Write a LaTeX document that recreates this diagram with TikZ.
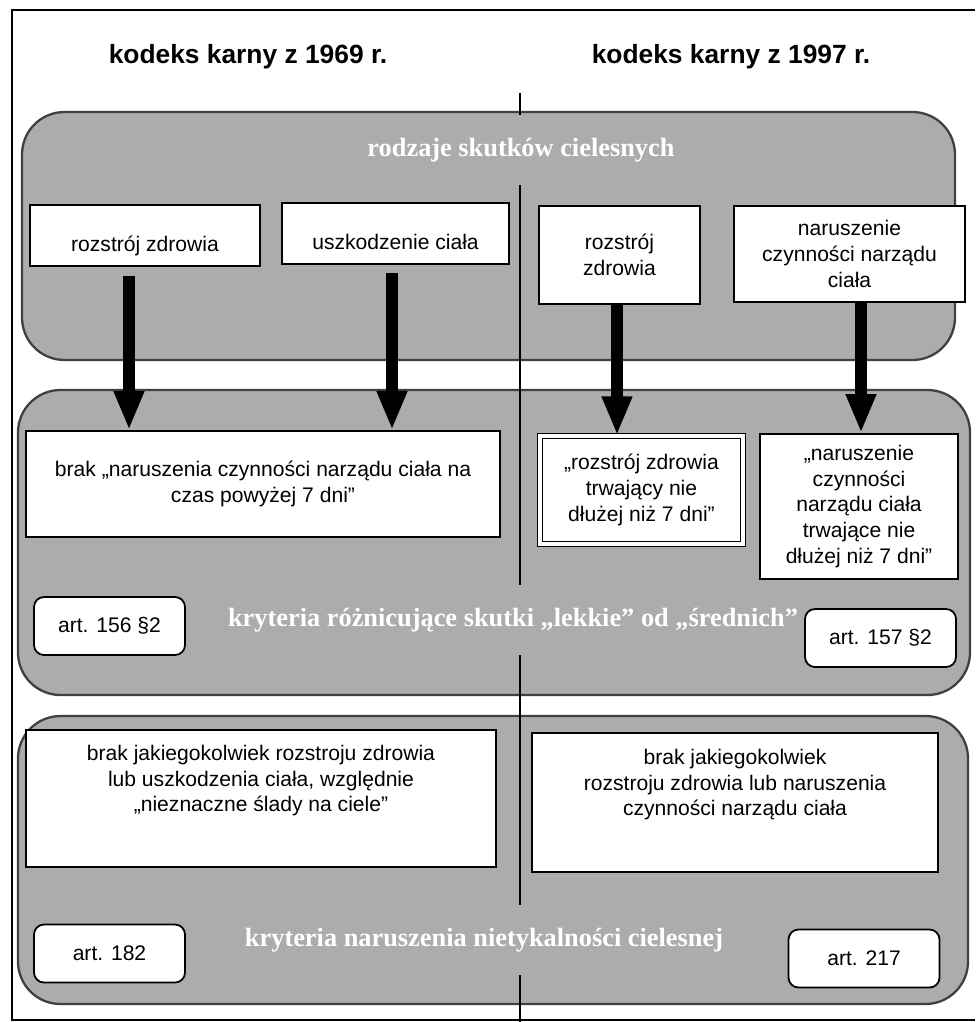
\documentclass[tikz,border=0pt]{standalone}
\usepackage{fontspec}
\setmainfont{Liberation Sans}
\newfontfamily\titleserif{Liberation Serif}
\usetikzlibrary{arrows.meta,positioning}
\definecolor{panelgray}{RGB}{172,172,172}

\begin{document}
\begin{tikzpicture}[x=0.2mm,y=-0.2mm,
    panel/.style={draw=black!75,line width=1.3pt,fill=panelgray,rounded corners=8.5mm},
    box/.style={draw,line width=1pt,fill=white,inner sep=2pt,align=center,font=\fontsize{12}{14.7}\selectfont},
    boxtext/.style={inner sep=2pt,align=center,font=\fontsize{12}{14.7}\selectfont},
    artbox/.style={box,rounded corners=2mm,minimum width=30.2mm,minimum height=11.6mm},
    heading/.style={font=\bfseries\fontsize{15}{18}\selectfont},
    paneltitle/.style={text=white,font=\titleserif\bfseries\fontsize{15}{18}\selectfont,inner xsep=1mm,inner ysep=4.5mm},
    bigarrow/.style={line width=2.4mm,-{Triangle[length=7.8mm,width=5.6mm]}}]
    \useasboundingbox (0,0) rectangle (975,1022);

    % Draw the frame
    \draw[line width=1pt] (975,10) -- (12,10) -- (12,1020) -- (975,1020);

    % Headings of the two codes
    \node[heading] (kk69) at (248,57) {kodeks karny z 1969 r.};
    \node[heading] (kk97) at (731,57) {kodeks karny z 1997 r.};

    % Draw the three panels
    \node[panel,minimum width=186.6mm,minimum height=49.6mm] (skutki) at (488.5,236) {};
    \node[panel,minimum width=190.4mm,minimum height=61mm] (lekkie) at (494,542.5) {};
    \node[panel,minimum width=190mm,minimum height=57.6mm] (nietyk) at (493,860) {};

    % Titles of the panels
    \node[paneltitle] (rodzaje) at (521,150) {rodzaje skutków cielesnych};
    \node[paneltitle] (kryt1) at (513,620) {kryteria różnicujące skutki „lekkie” od „średnich”};
    \node[paneltitle] (kryt2) at (484,940) {kryteria naruszenia nietykalności cielesnej};

    % Dividing line between the codes
    \coordinate (divtop) at (520,93);
    \coordinate (divbot) at (520,1022);
    \draw[line width=0.7pt] (divtop) -- (divtop |- rodzaje.north)
        (divtop |- rodzaje.south) -- (divtop |- kryt1.north)
        (divtop |- kryt1.south) -- (divtop |- kryt2.north)
        (divtop |- kryt2.south) -- (divbot);

    % Kinds of bodily effects
    \node[box,minimum width=46mm,minimum height=12.2mm,text height=7.2mm,text depth=0.9mm] (rozA) at (145,235.5) {rozstrój zdrowia};
    \node[box,minimum width=45.4mm,minimum height=12.2mm,text height=7.2mm,text depth=0.9mm] (uszB) at (395.5,233.5) {uszkodzenie ciała};
    \node[box,minimum width=32.2mm,minimum height=19.6mm] (rozC) at (619.5,255) {rozstrój\\zdrowia};
    \node[box,minimum width=46.2mm,minimum height=19.2mm] (narD) at (849.5,254) {naruszenie\\czynności narządu\\ciała};

    % Criteria light / medium
    \node[box,minimum width=94.8mm,minimum height=21.2mm] (brakE) at (263,484) {brak „naruszenia czynności narządu ciała na\\czas powyżej 7 dni”};
    \node[box,draw,double=white,double distance=0.8mm,line width=0.7pt,minimum width=40.6mm,minimum height=21.6mm] (rozF) at (641.5,490) {„rozstrój zdrowia\\trwający nie\\dłużej niż 7 dni”};
    \node[box,minimum width=39.6mm,minimum height=29mm] (narG) at (859,506.5) {„naruszenie\\czynności\\narządu ciała\\trwające nie\\dłużej niż 7 dni”};
    \node[artbox] (art156) at (109.5,626) {art. 156 §2};
    \node[artbox] (art157) at (880.5,638) {art. 157 §2};

    % Criteria of bodily inviolability
    \node[box,minimum width=94mm,minimum height=27.4mm] (brakH) at (261,798.5) {};
    \node[boxtext,below=2.4mm of brakH.north] (brakHtxt) {brak jakiegokolwiek rozstroju zdrowia\\lub uszkodzenia ciała, względnie\\„nieznaczne ślady na ciele”};
    \node[box,minimum width=81.2mm,minimum height=27.8mm] (brakI) at (735,802.5) {};
    \node[boxtext,below=2.6mm of brakI.north] (brakItxt) {brak jakiegokolwiek\\rozstroju zdrowia lub naruszenia\\czynności narządu ciała};
    \node[artbox] (art182) at (109.5,953.5) {art. 182};
    \node[artbox] (art217) at (864,958.5) {art. 217};

    % Draw the arrows
    \draw[bigarrow] ([xshift=-3.2mm,yshift=-1.8mm]rozA.south) -- ([xshift=-3.2mm]rozA.south |- brakE.north);
    \draw[bigarrow] ([xshift=-0.7mm,yshift=-1.6mm]uszB.south) -- ([xshift=-0.7mm]uszB.south |- brakE.north);
    \draw[bigarrow] ([xshift=-0.5mm]rozC.south) -- ([xshift=-0.5mm]rozC.south |- rozF.north);
    \draw[bigarrow] ([xshift=2.3mm]narD.south) -- ([xshift=2.3mm]narD.south |- narG.north);
\end{tikzpicture}
\end{document}
